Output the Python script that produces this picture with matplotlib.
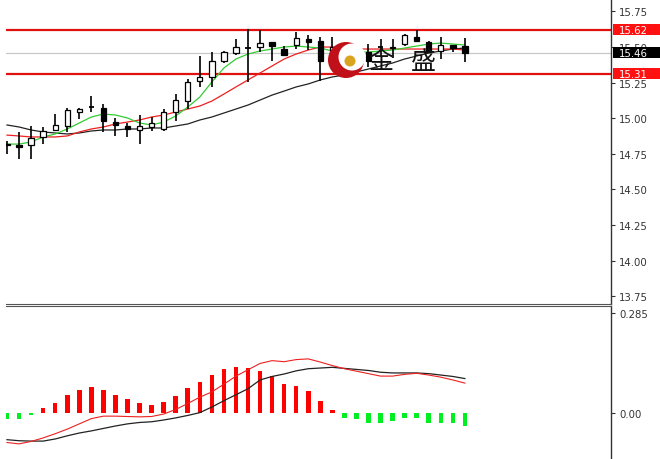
import matplotlib
matplotlib.use("Agg")
import matplotlib.pyplot as plt
import matplotlib.transforms as mtransforms
from matplotlib.patches import Rectangle, Circle
import numpy as np

# ---------------- data ----------------
opens = [14.82, 14.81, 14.81, 14.87, 14.92, 14.945, 15.045, 15.08, 15.07, 14.975,
         14.945, 14.915, 14.94, 14.925, 15.045, 15.12, 15.26, 15.29, 15.40, 15.455,
         15.49, 15.50, 15.535, 15.485, 15.515, 15.555, 15.54, 15.45, 15.50, 15.36,
         15.465, 15.50, 15.49, 15.52, 15.57, 15.535, 15.47, 15.51, 15.505]
highs = [14.84, 14.90, 14.945, 14.94, 15.03, 15.07, 15.07, 15.155, 15.10, 15.00,
         14.965, 15.02, 15.01, 15.065, 15.17, 15.275, 15.435, 15.465, 15.47, 15.555,
         15.625, 15.62, 15.535, 15.505, 15.605, 15.585, 15.57, 15.57, 15.53, 15.495,
         15.52, 15.555, 15.555, 15.59, 15.62, 15.54, 15.57, 15.51, 15.565]
lows = [14.75, 14.71, 14.71, 14.82, 14.91, 14.90, 14.995, 15.045, 14.90, 14.875,
        14.87, 14.82, 14.91, 14.91, 14.98, 15.065, 15.22, 15.22, 15.385, 15.445,
        15.255, 15.465, 15.40, 15.435, 15.485, 15.48, 15.26, 15.43, 15.38, 15.33,
        15.36, 15.43, 15.42, 15.505, 15.535, 15.465, 15.415, 15.465, 15.395]
closes = [14.81, 14.80, 14.86, 14.91, 14.95, 15.055, 15.065, 15.08, 14.98, 14.95,
          14.925, 14.945, 14.965, 15.045, 15.125, 15.255, 15.29, 15.40, 15.465, 15.50,
          15.49, 15.525, 15.505, 15.445, 15.56, 15.535, 15.40, 15.50, 15.42, 15.465,
          15.40, 15.50, 15.50, 15.58, 15.54, 15.465, 15.515, 15.49, 15.46]

ma_fast = [14.818, 14.818, 14.833, 14.868, 14.889, 14.924, 14.966, 15.008, 15.029, 15.022,
           15.001, 14.966, 14.952, 14.973, 15.015, 15.078, 15.148, 15.254, 15.352, 15.415,
           15.450, 15.471, 15.485, 15.499, 15.506, 15.499, 15.492, 15.471, 15.464, 15.464,
           15.464, 15.471, 15.478, 15.492, 15.506, 15.520, 15.527, 15.520, 15.513]
ma_mid = [14.881, 14.875, 14.868, 14.868, 14.868, 14.875, 14.903, 14.924, 14.938, 14.959,
          14.973, 14.987, 15.008, 15.022, 15.043, 15.064, 15.085, 15.120, 15.169, 15.219,
          15.268, 15.317, 15.366, 15.415, 15.450, 15.478, 15.499, 15.499, 15.492, 15.485,
          15.485, 15.485, 15.485, 15.485, 15.485, 15.485, 15.485, 15.485, 15.478]
ma_slow = [14.952, 14.938, 14.917, 14.903, 14.896, 14.889, 14.896, 14.910, 14.917, 14.917,
           14.924, 14.924, 14.931, 14.931, 14.945, 14.959, 14.987, 15.008, 15.036, 15.064,
           15.092, 15.127, 15.162, 15.190, 15.219, 15.240, 15.268, 15.289, 15.303, 15.324,
           15.345, 15.366, 15.387, 15.415, 15.436, 15.457, 15.471, 15.485, 15.492]

macd_hist = [-0.017, -0.017, -0.006, 0.015, 0.030, 0.051, 0.067, 0.076, 0.067, 0.051,
             0.040, 0.029, 0.025, 0.033, 0.049, 0.073, 0.088, 0.109, 0.125, 0.131,
             0.130, 0.121, 0.107, 0.084, 0.079, 0.064, 0.034, 0.010, -0.014, -0.017,
             -0.028, -0.027, -0.022, -0.014, -0.014, -0.027, -0.027, -0.028, -0.037]
macd_red = [-0.083, -0.087, -0.080, -0.070, -0.058, -0.045, -0.030, -0.015, -0.008, -0.008,
            -0.009, -0.010, -0.009, -0.002, 0.011, 0.028, 0.046, 0.061, 0.083, 0.106,
            0.124, 0.142, 0.150, 0.147, 0.153, 0.155, 0.146, 0.136, 0.127, 0.120,
            0.113, 0.106, 0.106, 0.111, 0.114, 0.109, 0.103, 0.095, 0.086]
macd_black = [-0.075, -0.078, -0.079, -0.079, -0.073, -0.064, -0.056, -0.050, -0.043, -0.036,
              -0.030, -0.026, -0.024, -0.019, -0.013, -0.006, 0.002, 0.018, 0.036, 0.053,
              0.070, 0.095, 0.105, 0.112, 0.121, 0.127, 0.129, 0.131, 0.128, 0.125,
              0.122, 0.117, 0.115, 0.115, 0.115, 0.113, 0.109, 0.105, 0.099]

price_ticks = [13.75, 14.00, 14.25, 14.50, 14.75, 15.00, 15.25, 15.50, 15.75]
price_tick_labels = ["13.75", "14.00", "14.25", "14.50", "14.75", "15.00", "15.25", "15.50", "15.75"]
macd_ticks = [0.0, 0.285]
macd_tick_labels = ["0.00", "0.285"]

resistance = 15.62
support = 15.31
last_price = 15.46
level_labels = ["15.62", "15.46", "15.31"]

# ---------------- figure ----------------
W, H = 660, 460
fig = plt.figure(figsize=(W / 100, H / 100), dpi=100)
fig.patch.set_facecolor("white")

ax_left = 6 / W
ax_w = (611 - 6) / W
ax = fig.add_axes([ax_left, 155.5 / H, ax_w, 304.5 / H])
ax2 = fig.add_axes([ax_left, 0, ax_w, 153.5 / H])

n = len(closes)
x = np.arange(n)
xmin = -1 / 12.05
xmax = (611 - 7) / 12.05
for a in (ax, ax2):
    a.set_xlim(xmin, xmax)
    a.set_facecolor("white")
    for s in ("left", "top"):
        a.spines[s].set_visible(False)
    a.spines["right"].set_color("#333333")
    a.spines["right"].set_linewidth(1.0)
    a.set_xticks([])
    a.yaxis.tick_right()
    a.tick_params(axis="y", direction="out", length=3, width=0.8, color="#333333",
                  labelsize=7.3, labelcolor="#333333", pad=3)

ax.spines["bottom"].set_color("#555555")
ax.spines["bottom"].set_linewidth(0.8)
ax2.spines["bottom"].set_visible(False)
ax2.spines["top"].set_visible(True)
ax2.spines["top"].set_color("#555555")
ax2.spines["top"].set_linewidth(0.8)

ax.set_ylim(13.6995, 15.836)
ax2.set_ylim(-0.130, 0.307)

# price panel
ax.axhline(last_price, color="#c8c8c8", lw=0.9, zorder=1)
ax.axhline(resistance, color="#e31010", lw=1.6, zorder=2)
ax.axhline(support, color="#e31010", lw=1.6, zorder=2)

ax.plot(x, ma_slow, color="#222222", lw=0.9, zorder=3)
ax.plot(x, ma_mid, color="#ee2020", lw=0.9, zorder=3)
ax.plot(x, ma_fast, color="#33cc33", lw=0.9, zorder=3)

bw = 0.44
for i in range(n):
    o, h, l, c = opens[i], highs[i], lows[i], closes[i]
    ax.vlines(i, l, h, color="black", lw=1.2, zorder=4)
    if abs(c - o) < 0.004:
        ax.hlines(o, i - bw / 2, i + bw / 2, color="black", lw=1.3, zorder=5)
    else:
        face = "white" if c > o else "black"
        ax.add_patch(Rectangle((i - bw / 2, min(o, c)), bw, abs(c - o),
                               facecolor=face, edgecolor="black", lw=0.9, zorder=5))

ax.set_yticks(price_ticks)
ax.set_yticklabels(price_tick_labels)

# level labels on the right axis
trans = mtransforms.blended_transform_factory(fig.transFigure, ax.transData)
box_h = 11 / 142.5
for val, lab, col in zip([resistance, last_price, support], level_labels,
                         ["#ff1111", "black", "#ff1111"]):
    ax.add_patch(Rectangle((613 / W, val - box_h / 2), (W - 613) / W, box_h,
                           transform=trans, facecolor=col, edgecolor="none",
                           clip_on=False, zorder=10))
    ax.text(619 / W, val, lab, transform=trans, color="white", fontsize=7.3,
            va="center", ha="left", clip_on=False, zorder=11)

# MACD panel
hist_colors = ["#ff0000" if v > 0 else "#00ee22" for v in macd_hist]
ax2.bar(x, macd_hist, width=0.38, color=hist_colors, zorder=2)
ax2.plot(x, macd_black, color="#222222", lw=0.9, zorder=3)
ax2.plot(x, macd_red, color="#ee2020", lw=0.8, zorder=3)
ax2.set_yticks(macd_ticks)
ax2.set_yticklabels(macd_tick_labels)

# watermark logo overlay (pixel coordinates)
ov = fig.add_axes([0, 0, 1, 1], zorder=20)
ov.set_xlim(0, W)
ov.set_ylim(H, 0)
ov.axis("off")
ov.patch.set_alpha(0)
ov.add_patch(Circle((346, 61), 18, facecolor="#c0111a", edgecolor="none"))
ov.add_patch(Circle((352, 58), 13.5, facecolor="white", edgecolor="none"))
ov.add_patch(Circle((350, 62), 5.5, facecolor="#d9a520", edgecolor="none"))
ov.text(381, 62, "金", fontsize=18, family=["Noto Sans CJK SC", "DejaVu Sans"],
        ha="center", va="center", color="#111111")
ov.text(423, 62, "盛", fontsize=18, family=["Noto Sans CJK SC", "DejaVu Sans"],
        ha="center", va="center", color="#111111")

fig.savefig("out.png", dpi=100, facecolor="white")
